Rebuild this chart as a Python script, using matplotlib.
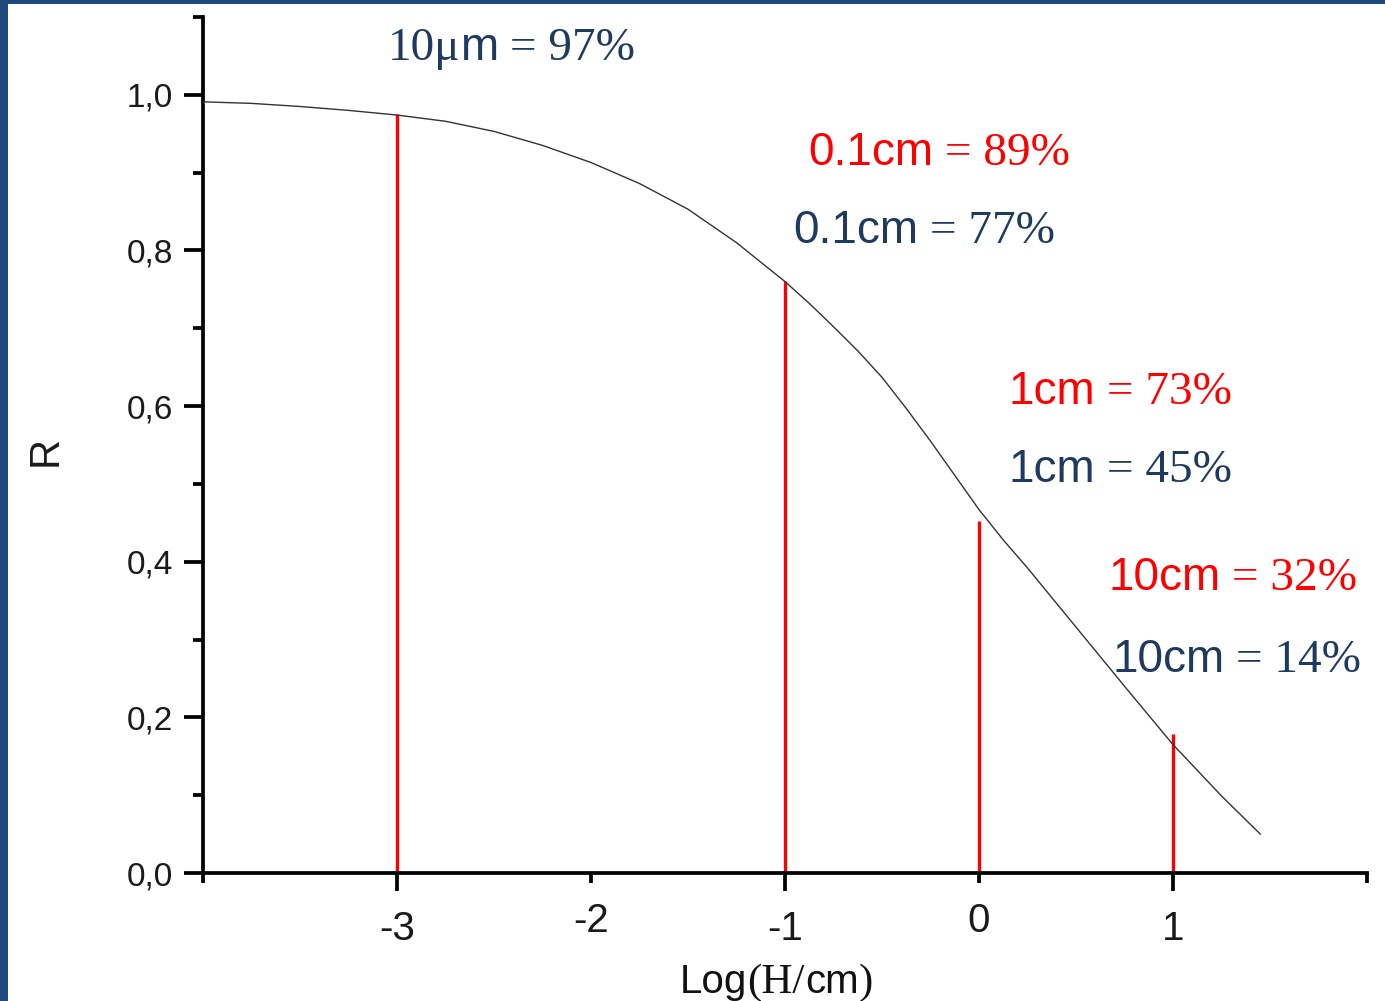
import matplotlib
matplotlib.use("Agg")
import matplotlib.pyplot as plt
from matplotlib.patches import Rectangle
from matplotlib.ticker import FixedLocator

# ---------------- data ----------------
log_h = [-4.0, -3.75, -3.5, -3.25, -3.0, -2.75, -2.5, -2.25, -2.0, -1.75, -1.5,
         -1.25, -1.0, -0.875, -0.75, -0.625, -0.5, -0.375, -0.25, -0.125, 0.0,
         0.125, 0.25, 0.5, 0.75, 1.0, 1.25, 1.45]
r_vals = [0.991, 0.989, 0.985, 0.980, 0.974, 0.966, 0.953, 0.935, 0.913, 0.886, 0.853,
          0.810, 0.760, 0.732, 0.702, 0.671, 0.637, 0.597, 0.555, 0.511, 0.467,
          0.428, 0.392, 0.316, 0.240, 0.165, 0.099, 0.050]

marker_x = [-3, -1, 0, 1]
marker_top = [0.975, 0.761, 0.452, 0.179]

y_major = [0.0, 0.2, 0.4, 0.6, 0.8, 1.0]
y_major_labels = ["0,0", "0,2", "0,4", "0,6", "0,8", "1,0"]
y_minor = [0.1, 0.3, 0.5, 0.7, 0.9, 1.1]
x_major = [-3, -1, 1]
x_major_labels = ["-3", "-1", "1"]
x_minor = [-4, -2, 0, 2]
x_minor_labels = ["", "-2", "0", ""]

# annotation pieces: (left px, baseline px, color, [(text, family), ...])
NAVY = "#1F3A60"
RED = "#FF0000"
SANS = "Liberation Sans"
SERIF = "Liberation Serif"
annotations = [
    (388, 60, NAVY, [("10\u03bc", SERIF), ("m", SANS), (" = 97%", SERIF)]),
    (808, 165, RED, [("0.1cm", SANS), (" = 89%", SERIF)]),
    (793, 243, NAVY, [("0.1cm", SANS), (" = 77%", SERIF)]),
    (1008, 404, RED, [("1cm", SANS), (" = 73%", SERIF)]),
    (1008, 482, NAVY, [("1cm", SANS), (" = 45%", SERIF)]),
    (1108, 590, RED, [("10cm", SANS), (" = 32%", SERIF)]),
    (1112, 672, NAVY, [("10cm", SANS), (" = 14%", SERIF)]),
]

# ---------------- figure ----------------
W, H = 1385, 1001
fig = plt.figure(figsize=(W / 100, H / 100), dpi=100)
fig.patch.set_facecolor("white")

# blue frame on left and top
fig.patches.append(Rectangle((0, 0), 8 / W, 1, transform=fig.transFigure,
                             facecolor="#1F497D", edgecolor="none", zorder=0))
fig.patches.append(Rectangle((0, 1 - 4 / H), 1, 4 / H, transform=fig.transFigure,
                             facecolor="#1F497D", edgecolor="none", zorder=0))

ax_left, ax_right = 203 / W, 1367 / W
ax_bottom, ax_top = 1 - 873 / H, 1 - 17 / H
ax = fig.add_axes([ax_left, ax_bottom, ax_right - ax_left, ax_top - ax_bottom])

ax.plot(log_h, r_vals, color="#333333", lw=1.0, zorder=3)
ax.vlines(marker_x, 0, marker_top, colors=RED, lw=2.4, zorder=2)

ax.set_xlim(-4, 2)
ax.set_ylim(0, 1.1)

for s in ["top", "right"]:
    ax.spines[s].set_visible(False)
for s in ["left", "bottom"]:
    ax.spines[s].set_linewidth(2.7)
    ax.spines[s].set_color("black")

ax.set_yticks(y_major, labels=y_major_labels)
ax.yaxis.set_minor_locator(FixedLocator(y_minor))
ax.set_xticks(x_major, labels=x_major_labels)
ax.set_xticks(x_minor, labels=x_minor_labels, minor=True)

ax.tick_params(axis="y", which="major", direction="out", length=13.5, width=2.7,
               pad=8, labelsize=24, labelcolor="#1a1a1a")
ax.tick_params(axis="y", which="minor", direction="out", length=7, width=2.7)
ax.tick_params(axis="x", which="major", direction="out", length=13, width=2.7,
               pad=14, labelsize=29, labelcolor="#1a1a1a")
ax.tick_params(axis="x", which="minor", direction="out", length=7, width=2.7,
               pad=14, labelsize=29, labelcolor="#1a1a1a")
for lab in ax.get_xticklabels(which="both") + ax.get_yticklabels():
    lab.set_family(SANS)

# axis labels
fig.text(46 / W, 1 - 451 / H, "R", rotation=90, ha="center", va="center",
         fontsize=30, family=SANS, color="#1a1a1a")

renderer = fig.canvas.get_renderer()


def rich_text(x_px, base_px, color, pieces, size_sans=33, size_serif=34):
    x = x_px
    for txt, fam in pieces:
        size = size_sans if fam == SANS else size_serif
        t = fig.text(x / W, 1 - base_px / H, txt, ha="left", va="baseline",
                     fontsize=size, family=fam, color=color)
        bb = t.get_window_extent(renderer=renderer)
        x = bb.x1


for x_px, base_px, color, pieces in annotations:
    rich_text(x_px, base_px, color, pieces)

rich_text(680, 993, "#111111",
          [("Log", SANS), ("(H/", SERIF), ("cm", SANS), (")", SERIF)],
          size_sans=29, size_serif=31)

fig.savefig("out.png", dpi=100)
